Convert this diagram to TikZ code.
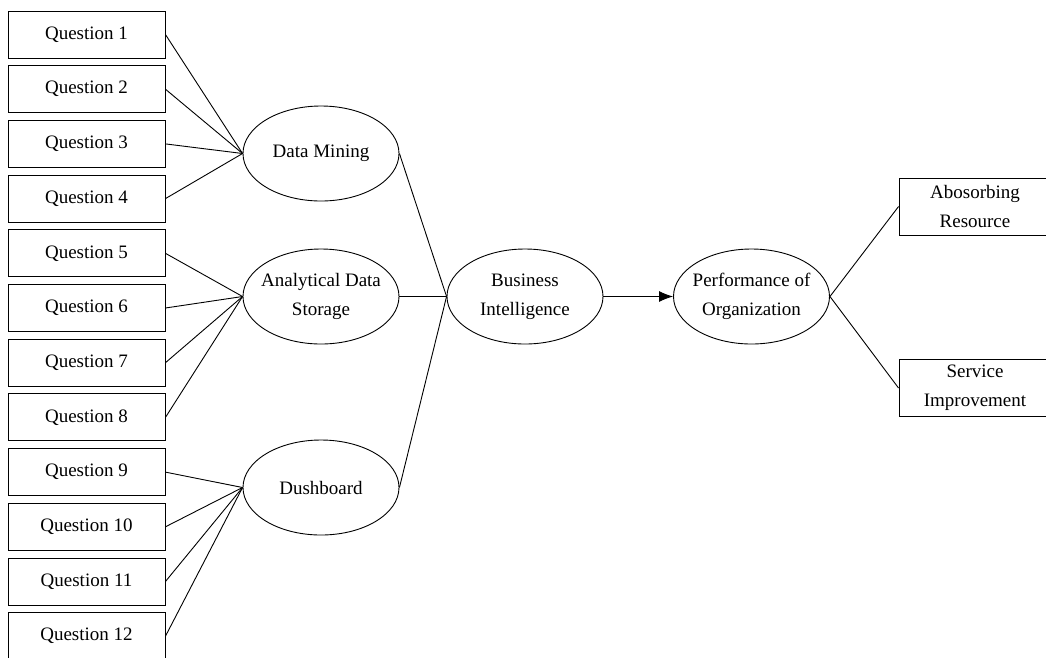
\documentclass[tikz,border=0pt]{standalone}
\usepackage{fontspec}
\setmainfont{Liberation Serif}
\usetikzlibrary{shapes.geometric,arrows.meta}

\tikzset{
    qbox/.style={draw, line width=0.9pt, minimum width=157pt, minimum height=47pt,
        inner sep=0pt, font=\fontsize{19}{29}\selectfont},
    obox/.style={qbox, minimum width=152pt, minimum height=57pt, align=center},
    oval/.style={draw, ellipse, line width=0.9pt, minimum width=156pt,
        minimum height=95pt, inner ysep=0pt, inner xsep=-30pt, align=center,
        font=\fontsize{19}{29}\selectfont},
    link/.style={line width=0.9pt}
}

\begin{document}
\begin{tikzpicture}
        [x=1pt, y=-1pt]
        \useasboundingbox (0,0) rectangle (1046,657);
        \begin{scope}
        \clip (0,0) rectangle (1046,657);
        % questions
        \foreach \i in {1,...,12}
            \node[qbox] (q\i) at (86.5, {34.5+54.7*(\i-1)}) {Question \i};
        \node[oval] (dm) at (321, 153.5) {Data Mining};
        \node[oval] (ads) at (321, 296.5) {Analytical Data\\Storage};
        \node[oval] (dsh) at (321, 487.5) {Dushboard};
        \node[oval] (bi) at (525, 296.5) {Business\\Intelligence};
        \node[oval] (perf) at (751.5, 296.5) {Performance of\\Organization};
        \node[obox] (absr) at (975, 206.5) {Abosorbing\\Resource};
        \node[obox] (serv) at (975, 388) {Service\\Improvement};
        \end{scope}
        \foreach \i in {1,...,4} \draw[link] (q\i.east) -- (dm.west);
        \foreach \i in {5,...,8} \draw[link] (q\i.east) -- (ads.west);
        \foreach \i in {9,...,12} \draw[link] (q\i.east) -- (dsh.west);
        \draw[link] (dm.east) -- (bi.west);
        \draw[link] (ads.east) -- (bi.west);
        \draw[link] (dsh.east) -- (bi.west);
        \draw[link, -{Latex[length=14pt, width=11pt]}] (bi.east) -- (perf.west);
        \draw[link] (perf.east) -- (absr.west);
        \draw[link] (perf.east) -- (serv.west);
    \end{tikzpicture}
\end{document}
